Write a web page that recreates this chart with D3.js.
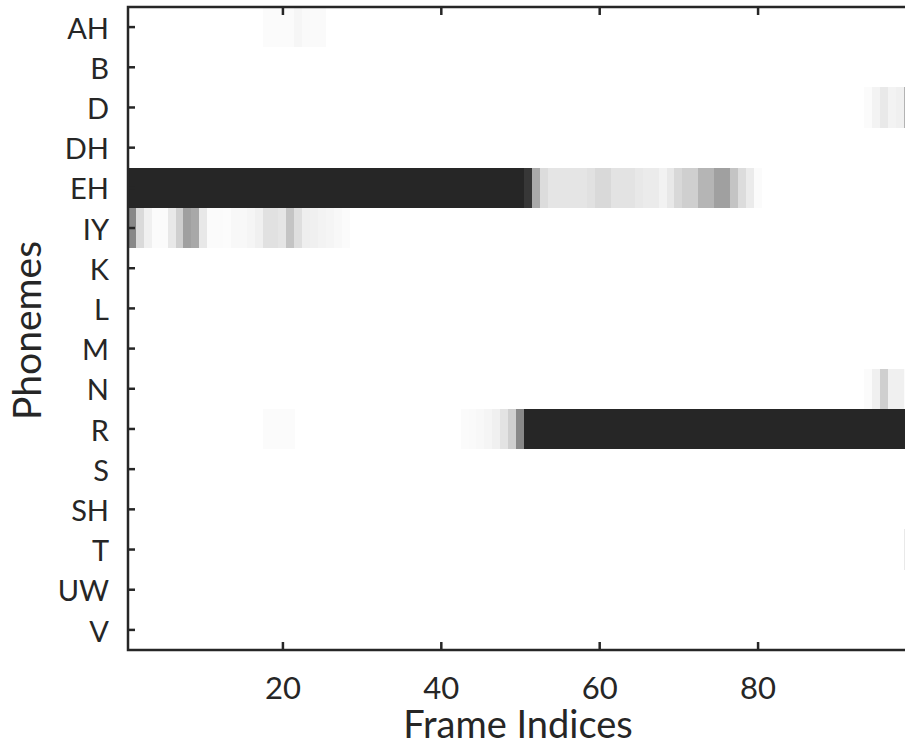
<!DOCTYPE html>
<html>
<head>
<meta charset="utf-8">
<script src="https://cdn.jsdelivr.net/npm/d3@7"></script>
<style>
  body { margin: 0; background: #fff; }
  svg { display: block; }
  text { font-family: Lato, "Open Sans", sans-serif; fill: #262626; }
</style>
</head>
<body>
<svg id="chart" width="905" height="746"></svg>
<script>
const phonemes = ["AH", "B", "D", "DH", "EH", "IY", "K", "L", "M", "N", "R", "S", "SH", "T", "UW", "V"];
const frameCount = 99;
const xTicks = [20, 40, 60, 80];

// posterior per frame, rows that are not listed are empty
const ahStart = 18;
const ahValues = [0.02, 0.02, 0.02, 0.02, 0.04, 0.025, 0.025, 0.025];
const dStart = 94;
const dValues = [0.02, 0.055, 0.1, 0.055, 0.07, 0.35];
const ehStart = 1;
const ehValues = [
    1, 1, 1, 1, 1, 1, 1, 1, 1, 1, 1, 1, 1, 1, 1, 1, 1, 1, 1, 1,
    1, 1, 1, 1, 1, 1, 1, 1, 1, 1, 1, 1, 1, 1, 1, 1, 1, 1, 1, 1,
    1, 1, 1, 1, 1, 1, 1, 1, 1, 1,
    0.92, 0.39, 0.16, 0.12, 0.12, 0.12, 0.12, 0.12, 0.14, 0.175,
    0.175, 0.13, 0.13, 0.13, 0.105, 0.09, 0.09, 0.06, 0.105, 0.18,
    0.22, 0.22, 0.34, 0.34, 0.44, 0.44, 0.27, 0.16, 0.09, 0.02
];
const iyStart = 1;
const iyValues = [
    0.55, 0.17, 0.07, 0.02, 0.02, 0.105, 0.22, 0.44, 0.40, 0.105,
    0.02, 0.02, 0.015, 0.03, 0.03, 0.045, 0.07, 0.14, 0.14, 0.12,
    0.27, 0.15, 0.08, 0.07, 0.055, 0.045, 0.03, 0.02
];
const nStart = 94;
const nValues = [0.02, 0.07, 0.22, 0.07, 0.07, 0.02];
const rEarlyStart = 18;
const rEarlyValues = [0.02, 0.02, 0.02, 0.02];
const rStart = 43;
const rValues = [
    0.02, 0.025, 0.03, 0.045, 0.07, 0.13, 0.22, 0.55,
    1, 1, 1, 1, 1, 1, 1, 1, 1, 1, 1, 1, 1, 1, 1, 1, 1, 1, 1, 1,
    1, 1, 1, 1, 1, 1, 1, 1, 1, 1, 1, 1, 1, 1, 1, 1, 1, 1, 1, 1,
    1, 1, 1, 1, 1, 1, 1, 1, 1
];
const tStart = 99;
const tValues = [0.1];

function toCells(phoneme, start, values) {
    return values.map((v, i) => ({phoneme: phoneme, frame: start + i, value: v}));
}

const cells = [].concat(
    toCells("AH", ahStart, ahValues),
    toCells("D", dStart, dValues),
    toCells("EH", ehStart, ehValues),
    toCells("IY", iyStart, iyValues),
    toCells("N", nStart, nValues),
    toCells("R", rEarlyStart, rEarlyValues),
    toCells("R", rStart, rValues),
    toCells("T", tStart, tValues)
);

const svg = d3.select("#chart");
const plotLeft = 128, plotRight = 912, plotTop = 7, plotBottom = 650;
const ink = "#262626";

const x = d3.scaleLinear().domain([0.5, frameCount + 0.5]).range([plotLeft, plotRight]);
const y = d3.scaleBand().domain(phonemes).range([plotTop, plotBottom]);
const color = d3.scaleLinear().domain([0, 1]).range(["#ffffff", ink]);

svg.append("g")
    .selectAll("rect")
    .data(cells)
    .join("rect")
    .attr("x", (d) => x(d.frame - 0.5))
    .attr("y", (d) => y(d.phoneme))
    .attr("width", x(1.5) - x(0.5) + 0.3)
    .attr("height", y.bandwidth())
    .attr("fill", (d) => color(d.value))
    .attr("shape-rendering", "crispEdges");

function styleAxis(g, size) {
    g.select(".domain").remove();
    g.selectAll("line").attr("stroke", ink).attr("stroke-width", 2.5);
    g.selectAll("text")
        .style("font-size", size + "px")
        .attr("fill", ink);
}

svg.append("g")
    .attr("transform", `translate(${plotLeft},0)`)
    .call(d3.axisLeft(y).tickSize(-7).tickPadding(19))
    .call(styleAxis, 29)
    .selectAll("text")
    .attr("dy", "0.4em");

svg.append("g")
    .attr("transform", `translate(${plotRight},0)`)
    .call(d3.axisRight(y).tickSize(-7).tickFormat(""))
    .call(styleAxis, 29);

svg.append("g")
    .attr("transform", `translate(0,${plotBottom})`)
    .call(d3.axisBottom(x).tickValues(xTicks).tickSize(-8).tickPadding(27))
    .call(styleAxis, 31);

svg.append("g")
    .attr("transform", `translate(0,${plotTop})`)
    .call(d3.axisTop(x).tickValues(xTicks).tickSize(-8).tickFormat(""))
    .call(styleAxis, 29);

// frame of the axes
svg.append("rect")
    .attr("x", plotLeft)
    .attr("y", plotTop)
    .attr("width", plotRight - plotLeft)
    .attr("height", plotBottom - plotTop)
    .attr("fill", "none")
    .attr("stroke", ink)
    .attr("stroke-width", 2.5);

svg.append("text")
    .attr("x", 518)
    .attr("y", 738)
    .attr("text-anchor", "middle")
    .style("font-size", "38px")
    .text("Frame Indices");

svg.append("text")
    .attr("transform", `translate(41,${(plotTop + plotBottom) / 2 + 2}) rotate(-90)`)
    .attr("text-anchor", "middle")
    .style("font-size", "39px")
    .text("Phonemes");
</script>
</body>
</html>
